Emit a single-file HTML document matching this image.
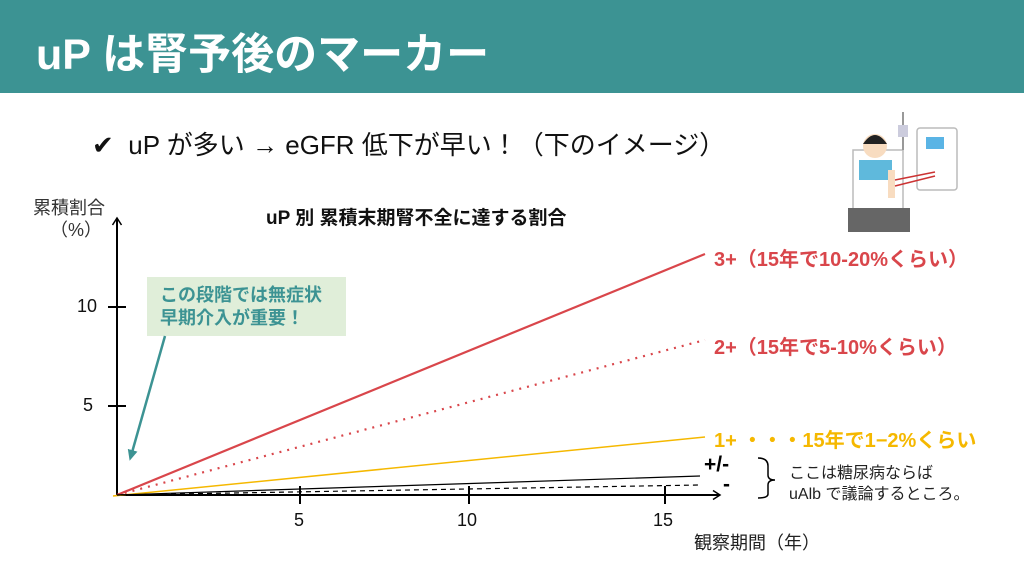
<!DOCTYPE html>
<html><head><meta charset="utf-8"><style>
body{margin:0;width:1024px;height:576px;background:#fff;position:relative;overflow:hidden;font-family:"Liberation Sans","Noto Sans CJK JP",sans-serif}
.hdr{position:absolute;left:0;top:0;width:1024px;height:93px;background:#3c9393}
.t{position:absolute;white-space:nowrap}
</style></head><body>
<div class="hdr"></div>
<div class="t" style="left:36px;top:20px;font-size:43px;font-weight:bold;color:#fff">uP は腎予後のマーカー</div>
<div class="t" style="left:92px;top:125px;font-size:26px;color:#111">✔&nbsp; uP が多い → eGFR 低下が早い！（下のイメージ）</div>
<div class="t" style="left:33px;top:194px;font-size:18px;color:#333">累積割合</div>
<div class="t" style="left:50px;top:216px;font-size:18px;color:#333">（%）</div>
<div class="t" style="left:266px;top:203px;font-size:19px;font-weight:bold;color:#111">uP 別 累積末期腎不全に達する割合</div>
<div style="position:absolute;left:147px;top:277px;width:199px;height:59px;background:#e0eed9"></div>
<div class="t" style="left:160px;top:284px;font-size:18px;font-weight:bold;color:#3c9393;line-height:23px">この段階では無症状<br>早期介入が重要！</div>
<svg width="1024" height="576" style="position:absolute;left:0;top:0">
<defs><marker id="a" markerUnits="userSpaceOnUse" markerWidth="12" markerHeight="12" refX="8" refY="6" orient="auto"><path d="M1,1.5 L8,6 L1,10.5" fill="none" stroke="#000" stroke-width="1.5"/></marker>
<marker id="b" markerUnits="userSpaceOnUse" markerWidth="12" markerHeight="12" refX="6" refY="6" orient="auto"><path d="M0,1 L11,6 L0,11 Z" fill="#3c9393"/></marker></defs>
<line x1="117" y1="496" x2="117" y2="218" stroke="#000" stroke-width="2" marker-end="url(#a)"/>
<line x1="117" y1="495" x2="720" y2="495" stroke="#000" stroke-width="2" marker-end="url(#a)"/>
<line x1="108" y1="307" x2="126" y2="307" stroke="#000" stroke-width="2"/>
<line x1="108" y1="406" x2="126" y2="406" stroke="#000" stroke-width="2"/>
<line x1="300" y1="486" x2="300" y2="504" stroke="#000" stroke-width="2"/>
<line x1="469" y1="486" x2="469" y2="504" stroke="#000" stroke-width="2"/>
<line x1="665" y1="486" x2="665" y2="504" stroke="#000" stroke-width="2"/>
<line x1="117" y1="495" x2="705" y2="254" stroke="#d9464b" stroke-width="2.2"/>
<line x1="117" y1="495" x2="705" y2="340" stroke="#d9464b" stroke-width="2.2" stroke-dasharray="2 6"/>
<line x1="113" y1="496" x2="705" y2="437" stroke="#f5b800" stroke-width="1.5"/>
<line x1="117" y1="495" x2="700" y2="476" stroke="#000" stroke-width="1.2"/>
<line x1="117" y1="495" x2="700" y2="485" stroke="#000" stroke-width="1.2" stroke-dasharray="5 4"/>
<line x1="165" y1="336" x2="131" y2="456" stroke="#3c9393" stroke-width="2.5" marker-end="url(#b)"/>
<path d="M758,458 Q768,458 768,466 L768,475 Q768,480 775,480 Q768,480 768,485 L768,494 Q768,498 758,498" fill="none" stroke="#000" stroke-width="1.5"/>
<rect x="853" y="150" width="50" height="60" fill="#fff" stroke="#bbb" stroke-width="1.5"/>
<rect x="848" y="208" width="62" height="24" fill="#666"/>
<rect x="917" y="128" width="40" height="62" fill="#fff" stroke="#bbb" stroke-width="1.5" rx="3"/>
<rect x="926" y="137" width="18" height="12" fill="#5ab4e5"/>
<rect x="859" y="160" width="33" height="20" fill="#5fb9dc"/>
<circle cx="875" cy="146" r="12" fill="#f8dcc0"/>
<path d="M863,144 Q875,126 887,144 Z" fill="#222"/>
<rect x="888" y="170" width="7" height="28" fill="#f8dcc0"/>
<line x1="895" y1="180" x2="935" y2="172" stroke="#c33" stroke-width="1.5"/>
<line x1="895" y1="186" x2="935" y2="176" stroke="#c33" stroke-width="1.5"/>
<line x1="903" y1="112" x2="903" y2="150" stroke="#999" stroke-width="2"/>
<rect x="898" y="125" width="10" height="12" fill="#ccd"/>
</svg>
<div class="t" style="left:77px;top:296px;font-size:18px;color:#111">10</div>
<div class="t" style="left:83px;top:395px;font-size:18px;color:#111">5</div>
<div class="t" style="left:294px;top:510px;font-size:18px;color:#111">5</div>
<div class="t" style="left:457px;top:510px;font-size:18px;color:#111">10</div>
<div class="t" style="left:653px;top:510px;font-size:18px;color:#111">15</div>
<div class="t" style="left:694px;top:529px;font-size:18px;color:#222">観察期間（年）</div>
<div class="t" style="left:714px;top:243px;font-size:20px;font-weight:bold;color:#d9464b">3+（15年で10-20%くらい）</div>
<div class="t" style="left:714px;top:331px;font-size:20px;font-weight:bold;color:#d9464b">2+（15年で5-10%くらい）</div>
<div class="t" style="left:714px;top:424px;font-size:20px;font-weight:bold;color:#f5b800">1+ ・・・15年で1−2%くらい</div>
<div class="t" style="left:704px;top:453px;font-size:21px;font-weight:bold;color:#000">+/-</div>
<div class="t" style="left:723px;top:473px;font-size:21px;font-weight:bold;color:#000">-</div>
<div class="t" style="left:789px;top:463px;font-size:16px;color:#222;line-height:21px">ここは糖尿病ならば<br>uAlb で議論するところ。</div>
</body></html>
